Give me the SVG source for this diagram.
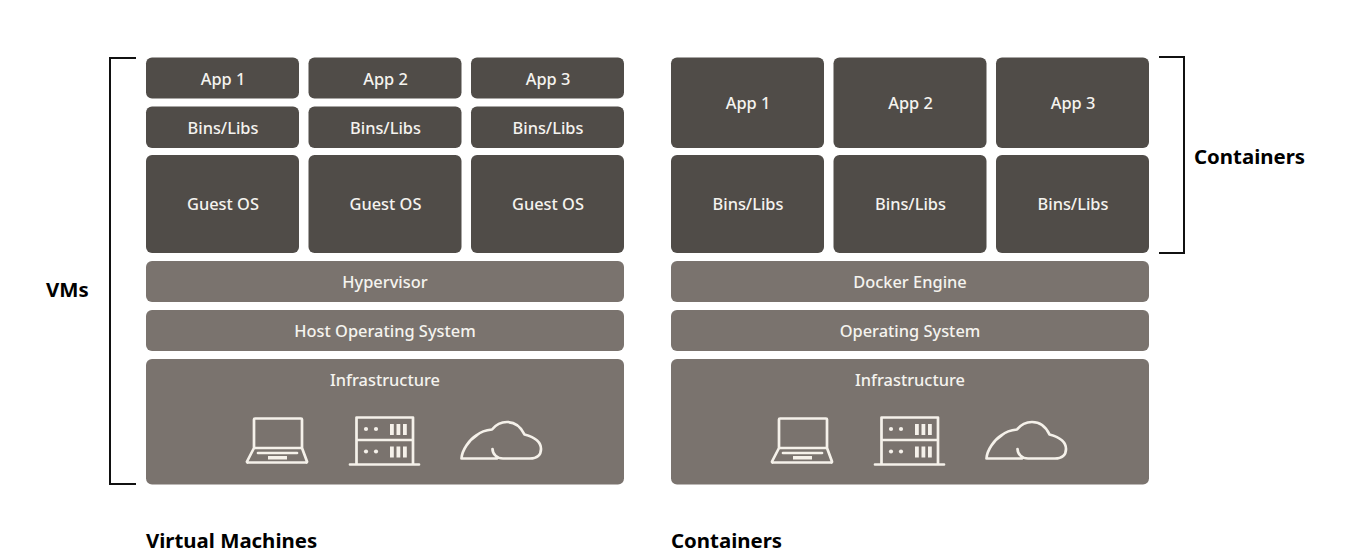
<svg xmlns="http://www.w3.org/2000/svg" width="1345" height="555" viewBox="0 0 1345 555">
<style>
text{font-family:"Noto Sans","Open Sans",sans-serif}
.d{fill:#504c48}.l{fill:#7a736e}
.t{fill:#f5f3ef;font-size:16.400px;font-weight:500;text-anchor:middle}
.h{fill:#000;font-size:20.400px;font-weight:700}
.b{fill:none;stroke:#111;stroke-width:2}
.i{fill:none;stroke:#f5f1ea;stroke-width:2.700;stroke-linejoin:round;stroke-linecap:round}
.f{fill:#f5f1ea}
</style>
<defs>
<g id="icons">
<path class="i" d="M254 448V419.500a1 1 0 0 1 1-1H301a1 1 0 0 1 1 1V448M254 448H302L307 461.500a.8.8 0 0 1-1 1H248a.8.8 0 0 1-1-1ZM258 453H297"/>
<rect class="f" x="268" y="456" width="19" height="3.500"/>
<path class="i" d="M356.500 464V417.500H413V464M356.500 440H413M350 464.500H419"/>
<circle class="f" cx="366" cy="429" r="2.100"/><circle class="f" cx="376" cy="429" r="2.100"/>
<circle class="f" cx="366" cy="451.500" r="2.100"/><circle class="f" cx="376" cy="451.500" r="2.100"/>
<path class="f" d="M390 424h3.800v11h-3.800zM396.500 424h3.800v11h-3.800zM403 424h3.800v11h-3.800zM390 446.500h3.800v11h-3.800zM396.500 446.500h3.800v11h-3.800zM403 446.500h3.800v11h-3.800z"/>
<path class="i" d="M461.500 458.500C462 450 469 440 477 435C481 431.500 487 430 492 429.500C496 424.500 501 422 507 422C515 422 521 427 524.500 434.500C534 437 541 442 541 449C541 455 537 458.500 530 458.500H503C497 458.500 492.500 454 492.500 449M461.500 458.500H497"/>
</g>
</defs>
<g id="connectors">
<path class="b" d="M136 58H110V484H136"/>
<path class="b" d="M1159 57H1184V253H1159"/>
</g>
<g id="vm-app1"><rect class="d" x="146" y="57.500" width="153" height="41" rx="6"/><text class="t" x="223" y="85">App 1</text></g>
<g id="vm-app2"><rect class="d" x="308.500" y="57.500" width="153" height="41" rx="6"/><text class="t" x="385.500" y="85">App 2</text></g>
<g id="vm-app3"><rect class="d" x="471" y="57.500" width="153" height="41" rx="6"/><text class="t" x="548" y="85">App 3</text></g>
<g id="vm-bins1"><rect class="d" x="146" y="106.500" width="153" height="41.500" rx="6"/><text class="t" x="223" y="133.500">Bins/Libs</text></g>
<g id="vm-bins2"><rect class="d" x="308.500" y="106.500" width="153" height="41.500" rx="6"/><text class="t" x="385.500" y="133.500">Bins/Libs</text></g>
<g id="vm-bins3"><rect class="d" x="471" y="106.500" width="153" height="41.500" rx="6"/><text class="t" x="548" y="133.500">Bins/Libs</text></g>
<g id="vm-os1"><rect class="d" x="146" y="155" width="153" height="98" rx="6"/><text class="t" x="223" y="210">Guest OS</text></g>
<g id="vm-os2"><rect class="d" x="308.500" y="155" width="153" height="98" rx="6"/><text class="t" x="385.500" y="210">Guest OS</text></g>
<g id="vm-os3"><rect class="d" x="471" y="155" width="153" height="98" rx="6"/><text class="t" x="548" y="210">Guest OS</text></g>
<g id="vm-hypervisor"><rect class="l" x="146" y="261" width="478" height="41" rx="6"/><text class="t" x="385" y="288">Hypervisor</text></g>
<g id="vm-hostos"><rect class="l" x="146" y="310" width="478" height="41" rx="6"/><text class="t" x="385" y="337">Host Operating System</text></g>
<g id="vm-infra"><rect class="l" x="146" y="359" width="478" height="125.500" rx="6"/><text class="t" x="385" y="386">Infrastructure</text><use href="#icons"/></g>
<g id="c-app1"><rect class="d" x="671" y="57.500" width="153" height="90.500" rx="6"/><text class="t" x="748" y="109">App 1</text></g>
<g id="c-app2"><rect class="d" x="833.500" y="57.500" width="153" height="90.500" rx="6"/><text class="t" x="910.500" y="109">App 2</text></g>
<g id="c-app3"><rect class="d" x="996" y="57.500" width="153" height="90.500" rx="6"/><text class="t" x="1073" y="109">App 3</text></g>
<g id="c-bins1"><rect class="d" x="671" y="155" width="153" height="98" rx="6"/><text class="t" x="748" y="210">Bins/Libs</text></g>
<g id="c-bins2"><rect class="d" x="833.500" y="155" width="153" height="98" rx="6"/><text class="t" x="910.500" y="210">Bins/Libs</text></g>
<g id="c-bins3"><rect class="d" x="996" y="155" width="153" height="98" rx="6"/><text class="t" x="1073" y="210">Bins/Libs</text></g>
<g id="c-docker"><rect class="l" x="671" y="261" width="478" height="41" rx="6"/><text class="t" x="910" y="288">Docker Engine</text></g>
<g id="c-os"><rect class="l" x="671" y="310" width="478" height="41" rx="6"/><text class="t" x="910" y="337">Operating System</text></g>
<g id="c-infra"><rect class="l" x="671" y="359" width="478" height="125.500" rx="6"/><text class="t" x="910" y="386">Infrastructure</text><use href="#icons" x="525"/></g>
<g id="labels">
<text class="h" x="46" y="297">VMs</text>
<text class="h" x="1194" y="164">Containers</text>
<text class="h" x="146" y="548">Virtual Machines</text>
<text class="h" x="671" y="548">Containers</text>
</g>
</svg>
